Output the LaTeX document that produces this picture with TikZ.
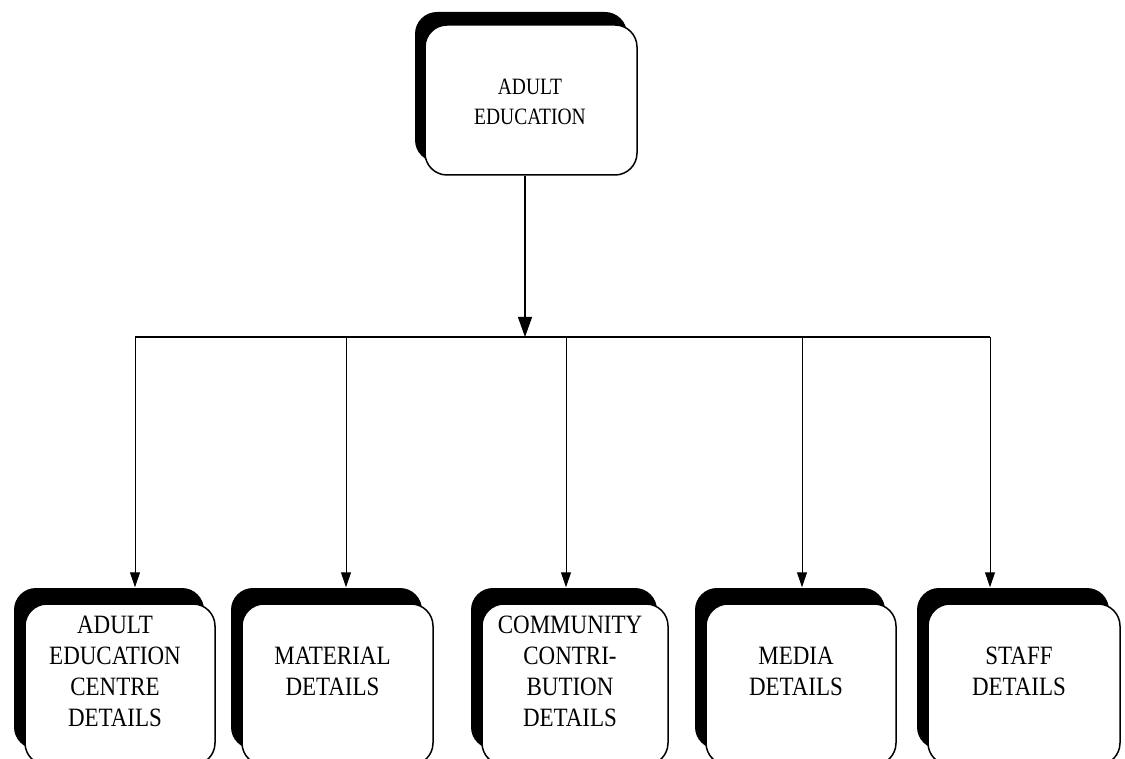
\documentclass[tikz,border=0pt]{standalone}
\usepackage{fontspec}
\setmainfont{Liberation Serif}
\usetikzlibrary{shadows,arrows.meta}
\begin{document}
\begin{tikzpicture}[x=1pt,y=-1pt,
  boxbase/.style={draw=black, line width=1.5pt, fill=white, rounded corners=22pt, inner sep=0pt},
  box/.style={boxbase, minimum width=#1, minimum height=161pt,
     general shadow={fill=black, shadow xshift=-11pt, shadow yshift=16pt}},
  topbox/.style={boxbase, minimum width=212pt, minimum height=150pt,
     general shadow={fill=black, shadow xshift=-10pt, shadow yshift=13pt}},
  toptext/.style={align=center, font=\fontsize{19.5}{25}\selectfont, xshift=-1pt, yshift=-2pt, yscale=1.2, transform shape},
  boxtext/.style={align=center, font=\fontsize{23}{27}\selectfont, xshift=-5pt, yshift=13pt, yscale=1.15, transform shape},
  hline/.style={line width=1.2pt},
  mainarrow/.style={line width=1.3pt, -{Triangle[width=14pt,length=20pt]}},
  droparrow/.style={line width=1pt, -{Triangle[width=10pt,length=15pt]}, shorten >=16pt}
]
\useasboundingbox (0,0) rectangle (1125,759);
\fill[white] (0,0) rectangle (1125,759);
\clip (0,0) rectangle (1125,759);

\node[topbox, label={[name=topt, toptext]center:ADULT\\EDUCATION}] (top) at (531,100) {};

\node[box=190pt, label={[name=b1t, boxtext]center:ADULT\\EDUCATION\\CENTRE\\DETAILS}] (b1) at (120,684.5) {};
\node[box=191pt, label={[name=b2t, boxtext]center:MATERIAL\\DETAILS}] (b2) at (337.5,684.5) {};
\node[box=186pt, label={[name=b3t, boxtext]center:COMMUNITY\\CONTRI-\\BUTION\\DETAILS}] (b3) at (575,684.5) {};
\node[box=190pt, label={[name=b4t, boxtext]center:MEDIA\\DETAILS}] (b4) at (801,684.5) {};
\node[box=192pt, label={[name=b5t, boxtext]center:STAFF\\DETAILS}] (b5) at (1024,684.5) {};

\coordinate (jm) at (525,337);
\coordinate (j1) at (135,337);
\coordinate (j2) at (346,337);
\coordinate (j3) at (566,337);
\coordinate (j4) at (802,337);
\coordinate (j5) at (990,337);

\draw[mainarrow] (jm |- top.south) -- (jm);
\draw[hline] (j1) -- (j5);
\draw[droparrow] (j1) -- (j1 |- b1.north);
\draw[droparrow] (j2) -- (j2 |- b2.north);
\draw[droparrow] (j3) -- (j3 |- b3.north);
\draw[droparrow] (j4) -- (j4 |- b4.north);
\draw[droparrow] (j5) -- (j5 |- b5.north);
\end{tikzpicture}
\end{document}
